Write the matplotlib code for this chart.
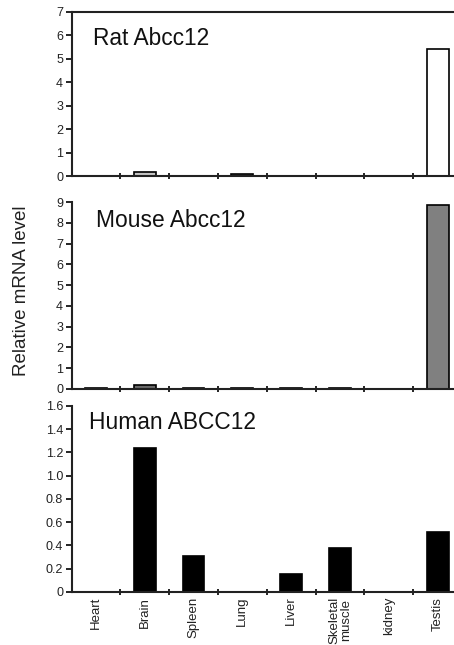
import matplotlib
matplotlib.use("Agg")
import matplotlib.pyplot as plt
import numpy as np

plt.rcParams['font.family'] = ['Liberation Sans', 'DejaVu Sans']

tissues = ['Heart', 'Brain', 'Spleen', 'Lung', 'Liver', 'Skeletal\nmuscle', 'kidney', 'Testis']

rat = [0.0, 0.17, 0.0, 0.08, 0.0, 0.0, 0.0, 5.42]
rat_colors = ['white', '#c4c4c4', 'white', '#707070', 'white', 'white', 'white', 'white']

mouse = [0.06, 0.2, 0.04, 0.06, 0.06, 0.06, 0.0, 8.85]
mouse_colors = ['#555555', '#6a6a6a', '#555555', '#555555', '#555555', '#555555', '#555555', '#808080']

human = [0.0, 1.235, 0.31, 0.0, 0.155, 0.38, 0.0, 0.52]

panels = [
    ('Rat Abcc12', rat, rat_colors, 7, np.arange(0, 8, 1), [str(v) for v in range(8)]),
    ('Mouse Abcc12', mouse, mouse_colors, 9, np.arange(0, 10, 1), [str(v) for v in range(10)]),
    ('Human ABCC12', human, ['black'] * 8, 1.6, np.arange(0, 1.61, 0.2),
     ['0', '0.2', '0.4', '0.6', '0.8', '1.0', '1.2', '1.4', '1.6']),
]

# [bottom, height] in figure fraction, and title position in axes fraction
boxes = [(0.7271, 0.2543), (0.3969, 0.2899), (0.0822, 0.2884)]
title_pos = [(0.055, 0.84), (0.063, 0.90), (0.046, 0.91)]

fig = plt.figure(figsize=(4.54, 6.45), dpi=100)
x = np.arange(len(tissues))

for i, (title, vals, cols, ymax, yt, ytl) in enumerate(panels):
    b, h = boxes[i]
    ax = fig.add_axes([0.1575, b, 0.860, h])
    ax.bar(x, vals, width=0.45, color=cols, edgecolor='black', linewidth=1.2)
    ax.set_xlim(-0.5, 7.5)
    ax.set_ylim(0, ymax)
    ax.set_yticks(yt)
    ax.set_yticklabels(ytl, fontsize=9, color='#222222')
    ax.tick_params(axis='y', direction='out', length=4, width=1.2, pad=2)
    # category separators on the x axis
    ax.set_xticks(np.arange(0.5, 7.5, 1))
    ax.set_xticklabels([])
    ax.tick_params(axis='x', direction='inout', length=5, width=1.2)
    ax.spines['right'].set_visible(False)
    ax.spines['top'].set_visible(i == 0)
    for s in ax.spines.values():
        s.set_linewidth(1.5)
        s.set_color('#222222')
    tx, ty = title_pos[i]
    ax.text(tx, ty, title, transform=ax.transAxes,
            fontsize=16.4, color='#111111', va='center', ha='left')
    if i == 2:
        for xi, lab in zip(x, tissues):
            ax.text(xi, -0.025, lab, transform=ax.get_xaxis_transform(),
                    rotation=90, ha='center', va='top', fontsize=9.5,
                    color='#222222', multialignment='center',
                    linespacing=1.0)

fig.text(0.048, 0.549, 'Relative mRNA level', rotation=90, fontsize=13.5,
         color='#222222', ha='center', va='center')

fig.savefig('out.png', dpi=100)
